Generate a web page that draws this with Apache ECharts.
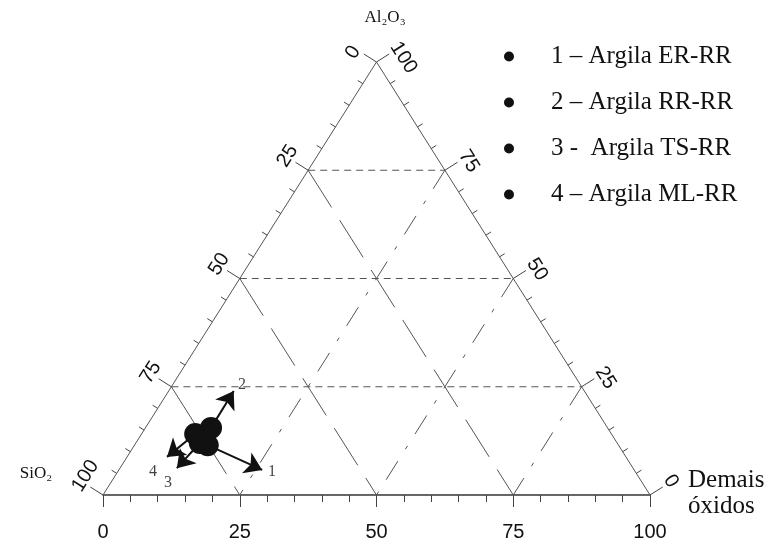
<!DOCTYPE html>
<html><head><meta charset="utf-8">
<script src="https://cdn.jsdelivr.net/npm/echarts@6/dist/echarts.min.js"></script>
<style>html,body{margin:0;padding:0;background:#fff}#c{width:771px;height:550px}</style>
</head><body><div id="c"></div>
<script>
// ---- data ----
const componentNames = ['SiO₂', 'Al₂O₃', 'Demais óxidos'];
const sampleNames = ['1 – Argila ER-RR', '2 – Argila RR-RR', '3 -  Argila TS-RR', '4 – Argila ML-RR'];
const sampleTags = ['1', '2', '3', '4'];
const sampleSiO2 = [75.1, 72.5, 76.3, 76.1];
const sampleAl2O3 = [11.5, 15.5, 12.0, 14.1];
const sampleDemais = [13.4, 12.0, 11.7, 9.8];
// arrow tips and tag positions (ternary: SiO2, Al2O3, Demais)
const tipSiO2 = [68.0, 64.1, 83.4, 83.9];
const tipAl2O3 = [5.8, 24.0, 6.2, 8.8];
const tipDemais = [26.2, 11.9, 10.4, 7.3];
const tagSiO2 = [66.45, 61.9, 86.7, 88.2];
const tagAl2O3 = [5.3, 25.4, 2.8, 5.3];
const tagDemais = [28.25, 12.7, 10.5, 6.5];
const gridLevels = [25, 50, 75];
const tickLabels = ['0', '25', '50', '75', '100'];
const minorStep = 5;

// ternary -> cartesian (x 0..100 along base, y 0..100 height)
function tern(si, al, de) {
  const s = si + al + de;
  return [(de + al / 2) / s * 100, al / s * 100];
}

const serif = 'Liberation Serif';
const sans = 'Liberation Sans';
const ink = '#111';
const gridInk = '#555';

function segs(list) {
  const out = [];
  list.forEach(function (s, i) { if (i) out.push([null, null]); out.push(s[0], s[1]); });
  return out;
}
const horiz = segs(gridLevels.map(L => [tern(100 - L, L, 0), tern(0, L, 100 - L)]));
const constSi = segs(gridLevels.map(S => [tern(S, 100 - S, 0), tern(S, 0, 100 - S)]));
const constDe = segs(gridLevels.map(D => [tern(0, 100 - D, D), tern(100 - D, 0, D)]));

const edgeTicks = [];
for (let v = 0; v <= 100; v += minorStep) {
  const lab = tickLabels.indexOf(String(v)) >= 0 ? String(v) : '';
  const pl = tern(v, 100 - v, 0);
  edgeTicks.push([pl[0], pl[1], 0, lab]);
  const pr = tern(0, v, 100 - v);
  edgeTicks.push([pr[0], pr[1], 1, lab]);
}

function renderEdge(params, api) {
  const edge = api.value(2);
  const lab = edgeTicks[params.dataIndex][3];
  const p = api.coord([api.value(0), api.value(1)]);
  const A = api.coord([0, 0]), B = api.coord([100, 0]), C = api.coord([50, 100]);
  let dx, dy;
  if (edge === 0) { dx = C[0] - A[0]; dy = C[1] - A[1]; } else { dx = B[0] - C[0]; dy = B[1] - C[1]; }
  const L = Math.hypot(dx, dy), ux = dx / L, uy = dy / L;
  const nx = uy, ny = -ux;
  const major = lab !== '';
  const len = major ? 15 : 6;
  const children = [{
    type: 'line', shape: { x1: p[0], y1: p[1], x2: p[0] + nx * len, y2: p[1] + ny * len },
    style: { stroke: '#444', lineWidth: 1 }
  }];
  if (major) {
    const half = lab.length * 0.556 * 20 / 2;
    const k = edge === 0 ? 10 : 6;
    const sh = half - k;
    children.push({
      type: 'text',
      x: p[0] + nx * 25 + ux * sh, y: p[1] + ny * 25 + uy * sh,
      rotation: -Math.atan2(uy, ux),
      style: { text: lab, fontFamily: sans, fontSize: 20, fill: ink, align: 'center', verticalAlign: 'middle' }
    });
  }
  return { type: 'group', children: children };
}

const sampleSeries = sampleNames.map(function (n, i) {
  return {
    type: 'scatter', name: n, z: 5, symbol: 'circle', symbolSize: 22,
    itemStyle: { color: ink, opacity: 1 },
    data: [tern(sampleSiO2[i], sampleAl2O3[i], sampleDemais[i])]
  };
});

const arrowData = sampleNames.map(function (n, i) {
  return { coords: [tern(sampleSiO2[i], sampleAl2O3[i], sampleDemais[i]), tern(tipSiO2[i], tipAl2O3[i], tipDemais[i])] };
});
const tagData = sampleTags.map(function (t, i) {
  return { name: t, value: tern(tagSiO2[i], tagAl2O3[i], tagDemais[i]) };
});

const chart = echarts.init(document.getElementById('c'));
chart.setOption({
  animation: false,
  backgroundColor: '#fff',
  grid: { left: 103, right: 121, top: 62, bottom: 55 },
  xAxis: {
    type: 'value', min: 0, max: 100, interval: 25,
    axisLine: { show: true, lineStyle: { color: '#444', width: 1.5 } },
    axisTick: { show: true, length: 12, lineStyle: { color: '#444' } },
    minorTick: { show: true, splitNumber: 5, length: 7, lineStyle: { color: '#444' } },
    splitLine: { show: false },
    axisLabel: { fontFamily: sans, fontSize: 20, color: ink, margin: 27,
      formatter: function (v) { return tickLabels[v / 25]; } }
  },
  yAxis: { type: 'value', min: 0, max: 100, show: false },
  legend: {
    data: sampleNames, orient: 'vertical', left: 499, top: 39,
    icon: 'circle', itemWidth: 10, itemHeight: 10, itemGap: 21, selectedMode: false,
    textStyle: { fontFamily: serif, fontSize: 25, color: ink, lineHeight: 25, padding: [0, 0, 0, 32] }
  },
  graphic: [
    { type: 'text', x: 385, y: 18, style: { text: componentNames[1], fontFamily: serif, fontSize: 17, fill: ink, align: 'center', verticalAlign: 'middle' } },
    { type: 'text', x: 36, y: 474, style: { text: componentNames[0], fontFamily: serif, fontSize: 17, fill: ink, align: 'center', verticalAlign: 'middle' } },
    { type: 'text', x: 688, y: 480, style: { text: componentNames[2].split(' ')[0], fontFamily: serif, fontSize: 25, fill: ink, align: 'left', verticalAlign: 'middle' } },
    { type: 'text', x: 688, y: 506, style: { text: componentNames[2].split(' ')[1], fontFamily: serif, fontSize: 25, fill: ink, align: 'left', verticalAlign: 'middle' } }
  ],
  series: [
    { type: 'line', z: 1, silent: true, showSymbol: false, symbol: 'none',
      data: [tern(100, 0, 0), tern(0, 0, 100), tern(0, 100, 0), tern(100, 0, 0)],
      lineStyle: { color: gridInk, width: 1 } },
    { type: 'line', z: 1, silent: true, showSymbol: false, symbol: 'none', connectNulls: false,
      data: horiz, lineStyle: { color: gridInk, width: 1, type: [7, 5] } },
    { type: 'line', z: 1, silent: true, showSymbol: false, symbol: 'none', connectNulls: false,
      data: constSi, lineStyle: { color: gridInk, width: 1, type: [44, 15] } },
    { type: 'line', z: 1, silent: true, showSymbol: false, symbol: 'none', connectNulls: false,
      data: constDe, lineStyle: { color: gridInk, width: 1, type: [22, 14, 4, 14] } },
    { type: 'custom', z: 2, silent: true, renderItem: renderEdge, data: edgeTicks.map(d => [d[0], d[1], d[2]]), clip: false },
    { type: 'lines', coordinateSystem: 'cartesian2d', z: 4, silent: true,
      symbol: ['none', 'arrow'], symbolSize: 17,
      lineStyle: { color: ink, width: 2, opacity: 1, curveness: 0 },
      data: arrowData },
    { type: 'scatter', z: 4, silent: true, symbolSize: 0, data: tagData,
      label: { show: true, position: 'inside', formatter: '{b}', fontFamily: serif, fontSize: 16, color: ink } }
  ].concat(sampleSeries)
});
</script></body></html>
